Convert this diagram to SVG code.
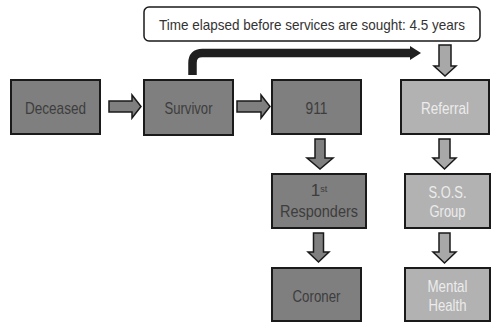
<svg xmlns="http://www.w3.org/2000/svg" width="491" height="322" viewBox="0 0 491 322">
<style>
.dk{fill:#7f7f7f;stroke:#1a1a1a;stroke-width:2}
.lt{fill:#b2b2b2;stroke:#1a1a1a;stroke-width:2}
.tdk{fill:#3d3d3d;font-family:"Liberation Sans Narrow","Liberation Sans",Arial,sans-serif;font-size:17px;text-anchor:middle}
.tlt{fill:#ececec;font-family:"Liberation Sans Narrow","Liberation Sans",Arial,sans-serif;font-size:17px;text-anchor:middle}
.ad{fill:#7f7f7f;stroke:#1a1a1a;stroke-width:1.5;stroke-linejoin:miter}
.al{fill:#a8a8a8;stroke:#1a1a1a;stroke-width:1.5;stroke-linejoin:miter}
</style>
<rect width="491" height="322" fill="#ffffff"/>
<g id="note">
<rect x="144" y="7" width="336" height="34" rx="5" fill="#ffffff" stroke="#1a1a1a" stroke-width="1.5"/>
<text x="312" y="30" font-family="'Liberation Sans Narrow','Liberation Sans',Arial,sans-serif" font-size="14.5" fill="#333333" text-anchor="middle" textLength="306" lengthAdjust="spacingAndGlyphs">Time elapsed before services are sought: 4.5 years</text>
</g>
<g id="deceased"><rect class="dk" x="11" y="80" width="89" height="54"/><text class="tdk" x="55.5" y="114" textLength="61" lengthAdjust="spacingAndGlyphs">Deceased</text></g>
<g id="survivor"><rect class="dk" x="144" y="80" width="89" height="55"/><text class="tdk" x="188.5" y="114" textLength="48" lengthAdjust="spacingAndGlyphs">Survivor</text></g>
<g id="n911"><rect class="dk" x="272" y="80" width="89" height="54"/><text class="tdk" x="316.5" y="114" textLength="22" lengthAdjust="spacingAndGlyphs">911</text></g>
<g id="responders"><rect class="dk" x="272" y="174" width="94" height="54"/><text class="tdk" x="319" y="196" font-size="13">1<tspan font-size="9" dy="-4">st</tspan></text><text class="tdk" x="319" y="217" textLength="78" lengthAdjust="spacingAndGlyphs">Responders</text></g>
<g id="coroner"><rect class="dk" x="272" y="268" width="89" height="53"/><text class="tdk" x="316.5" y="302" textLength="48" lengthAdjust="spacingAndGlyphs">Coroner</text></g>
<g id="referral"><rect class="lt" x="401" y="80" width="88" height="54"/><text class="tlt" x="445" y="114" textLength="48" lengthAdjust="spacingAndGlyphs">Referral</text></g>
<g id="sos"><rect class="lt" x="405" y="174" width="85" height="54"/><text class="tlt" x="447.5" y="198" textLength="38" lengthAdjust="spacingAndGlyphs">S.O.S.</text><text class="tlt" x="447.5" y="217" textLength="36" lengthAdjust="spacingAndGlyphs">Group</text></g>
<g id="mental"><rect class="lt" x="405" y="268" width="85" height="53"/><text class="tlt" x="447.5" y="292" textLength="40" lengthAdjust="spacingAndGlyphs">Mental</text><text class="tlt" x="447.5" y="311" textLength="38" lengthAdjust="spacingAndGlyphs">Health</text></g>
<g id="connectors">
<polygon class="ad" points="109,101 132,101 132,95 141,106.5 132,118 132,112 109,112"/>
<polygon class="ad" points="237,101 261,101 261,95 270,106.5 261,118 261,112 237,112"/>
<polygon class="ad" points="315,139 325,139 325,158 333,158 320,169 307,158 315,158"/>
<polygon class="ad" points="313.5,233 323.5,233 323.5,252 329,252 318.5,262 308,252 313.5,252"/>
<polygon class="al" points="439,45 451,45 451,66 456,66 445,76 434,66 439,66"/>
<polygon class="al" points="439,139 450,139 450,158 456,158 444.5,169 433,158 439,158"/>
<polygon class="al" points="439,233 450,233 450,252 456,252 444.5,263 433,252 439,252"/>
<path d="M192.5,75 V63 Q192.5,53 202.5,53 H412" fill="none" stroke="#1f1f1f" stroke-width="8.5"/>
<polygon points="410,46 421,53 410,60" fill="#1f1f1f"/>
</g>
</svg>
